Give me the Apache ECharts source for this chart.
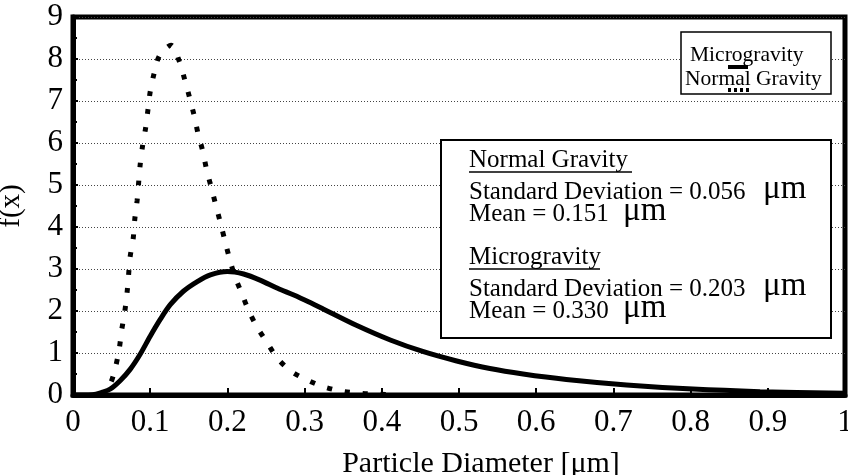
<!DOCTYPE html>
<html>
<head>
<meta charset="utf-8" />
<title>f(x) particle diameter</title>
<style type="text/css">
body,div{margin:0;padding:0;}
#chart{width:848px;height:475px;background:#fff;}
</style>
<script src="https://cdn.jsdelivr.net/npm/echarts@6/dist/echarts.min.js"></script>
</head>
<body>
<div id="chart"></div>
<script type="text/javascript">
// values
var xTicks = [0, 0.1, 0.2, 0.3, 0.4, 0.5, 0.6, 0.7, 0.8, 0.9, 1];
var yTicks = [0, 1, 2, 3, 4, 5, 6, 7, 8, 9];

// microgravity (solid)
var microX = [0, 0.02, 0.03, 0.048, 0.061, 0.074, 0.087, 0.100, 0.113, 0.126, 0.143, 0.161, 0.178, 0.200,
              0.221, 0.243, 0.265, 0.286, 0.305, 0.324, 0.367, 0.411, 0.454, 0.497, 0.540, 0.583, 0.639,
              0.717, 0.803, 0.890, 1.0];
var microY = [0, 0, 0.02, 0.14, 0.34, 0.61, 0.97, 1.40, 1.80, 2.15, 2.47, 2.70, 2.86, 2.94,
              2.88, 2.73, 2.54, 2.38, 2.22, 2.05, 1.66, 1.31, 1.03, 0.81, 0.63, 0.50, 0.37,
              0.24, 0.14, 0.08, 0.04];

// normal gravity (dotted)
var normalX = [0.035, 0.048, 0.055, 0.060, 0.063, 0.067, 0.070, 0.072, 0.074, 0.078, 0.080, 0.083, 0.085,
               0.087, 0.090, 0.094, 0.097, 0.100, 0.105, 0.112, 0.127, 0.138, 0.145, 0.151, 0.157,
               0.162, 0.168, 0.173, 0.179, 0.185, 0.191, 0.197, 0.203, 0.210, 0.219, 0.228, 0.239,
               0.252, 0.265, 0.283, 0.303, 0.324, 0.348, 0.372, 0.395, 0.42];
var normalY = [0.0, 0.26, 0.66, 1.11, 1.54, 1.98, 2.43, 2.86, 3.29, 3.73, 4.18, 4.62, 5.05,
               5.48, 5.92, 6.35, 6.78, 7.22, 7.65, 8.08, 8.33, 7.93, 7.49, 7.08, 6.65,
               6.22, 5.81, 5.37, 4.95, 4.52, 4.10, 3.66, 3.23, 2.81, 2.40, 1.99, 1.60,
               1.23, 0.87, 0.56, 0.36, 0.20, 0.09, 0.04, 0.02, 0.0];

function pairs(xs, ys){
    var out = [];
    for (var i = 0; i < xs.length; i++) out.push([xs[i], ys[i]]);
    return out;
}

var serif = '"Liberation Serif", "DejaVu Serif", serif';

function txt(x, y, s, size){
    return {type: 'text', x: x, y: y, z: 11,
        style: {text: s, font: size + 'px ' + serif, fill: '#000',
                textAlign: 'left', textVerticalAlign: 'middle', align: 'left', verticalAlign: 'middle'}};
}

var myChart = echarts.init(document.getElementById('chart'), null, {renderer: 'canvas'});
var option = {
    backgroundColor: '#fff',
    animation: false,
    grid: {
        left: 73, right: 3, top: 17, bottom: 80,
        outerBoundsMode: 'none', containLabel: false,
        show: true, borderColor: '#000', borderWidth: 5
    },
    xAxis: {
        type: 'value', min: 0, max: 1, interval: 0.1,
        name: 'Particle Diameter [\u03bcm]',
        nameLocation: 'middle', nameGap: 54,
        nameTextStyle: {fontFamily: serif, fontSize: 30, color: '#000', padding: [0, 0, 0, 44]},
        axisLine: {lineStyle: {color: '#000', width: 5}},
        axisTick: {inside: true, length: 7, lineStyle: {color: '#000', width: 2}},
        axisLabel: {
            fontFamily: serif, fontSize: 31, color: '#000', margin: 12,
            formatter: function (v) {
                if (v === 0 || v === 1) return String(v);
                return v.toFixed(1);
            }
        },
        splitLine: {show: false}
    },
    yAxis: {
        type: 'value', min: 0, max: 9, interval: 1,
        name: 'f(x)',
        nameLocation: 'middle', nameGap: 47,
        nameTextStyle: {fontFamily: serif, fontSize: 29, color: '#000'},
        axisLine: {lineStyle: {color: '#000', width: 5}},
        axisTick: {inside: true, length: 5, lineStyle: {color: '#000', width: 2}},
        minorTick: {show: true, splitNumber: 2, length: 4, lineStyle: {color: '#000', width: 2}},
        axisLabel: {fontFamily: serif, fontSize: 31, color: '#000', margin: 10},
        splitLine: {show: true, lineStyle: {color: '#444', width: 1, type: [1, 2]}}
    },
    series: [
        {
            name: 'Microgravity', type: 'line', data: pairs(microX, microY),
            smooth: 0.3, showSymbol: false, z: 3,
            lineStyle: {color: '#000', width: 5}
        },
        {
            name: 'Normal Gravity', type: 'line', data: pairs(normalX, normalY),
            smooth: 0.3, showSymbol: false, z: 3,
            lineStyle: {color: '#000', width: 5, type: [5, 13], cap: 'butt'}
        }
    ],
    graphic: [
        // legend box
        {type: 'rect', shape: {x: 681, y: 32, width: 150, height: 62}, z: 10,
         style: {fill: '#fff', stroke: '#000', lineWidth: 1.5}},
        txt(690, 55, 'Microgravity', 21.5),
        {type: 'line', shape: {x1: 728, y1: 67, x2: 748, y2: 67}, z: 11,
         style: {stroke: '#000', lineWidth: 4}},
        txt(685, 79, 'Normal Gravity', 21.5),
        {type: 'line', shape: {x1: 728, y1: 90, x2: 750, y2: 90}, z: 11,
         style: {stroke: '#000', lineWidth: 4, lineDash: [3, 3]}},

        // statistics box
        {type: 'rect', shape: {x: 441, y: 140, width: 390, height: 198}, z: 10,
         style: {fill: '#fff', stroke: '#000', lineWidth: 2}},
        txt(469, 160, 'Normal Gravity', 25),
        {type: 'line', shape: {x1: 469, y1: 172, x2: 632, y2: 172}, z: 11,
         style: {stroke: '#000', lineWidth: 1.5}},
        txt(469, 192, 'Standard Deviation = 0.056', 25),
        txt(763, 189, '\u03bcm', 33),
        txt(469, 214, 'Mean = 0.151', 25),
        txt(623, 211, '\u03bcm', 33),
        txt(469, 257, 'Microgravity', 25),
        {type: 'line', shape: {x1: 469, y1: 269, x2: 600, y2: 269}, z: 11,
         style: {stroke: '#000', lineWidth: 1.5}},
        txt(469, 289, 'Standard Deviation = 0.203', 25),
        txt(763, 286, '\u03bcm', 33),
        txt(469, 311, 'Mean = 0.330', 25),
        txt(623, 308, '\u03bcm', 33)
    ]
};
myChart.setOption(option);
</script>
</body>
</html>
